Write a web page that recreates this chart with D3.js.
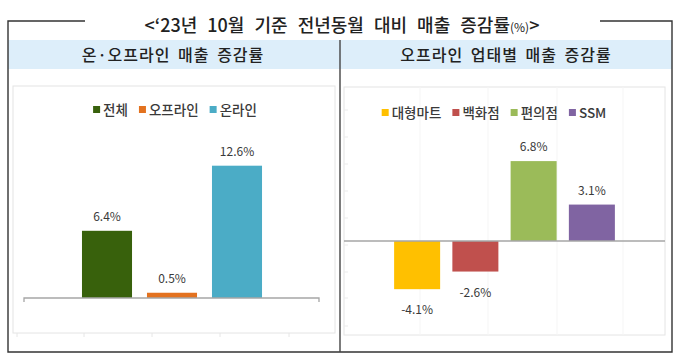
<!DOCTYPE html>
<html><head><meta charset="utf-8">
<script src="https://cdn.jsdelivr.net/npm/d3@7"></script>
<style>
html,body{margin:0;padding:0;background:#fff;}
svg{display:block;}
text{font-family:"Noto Sans CJK KR","Noto Sans",sans-serif;}
</style></head>
<body>
<svg id="chart" width="680" height="356"></svg>
<script>
// ---- data ----
const titleText = "<‘23년 10월 기준 전년동월 대비 매출 증감률";
const titleUnit = "(%)";
const leftTitle = "온·오프라인 매출 증감률";
const rightTitle = "오프라인 업태별 매출 증감률";

const leftCategories = ["전체", "오프라인", "온라인"];
const leftValues = [6.4, 0.5, 12.6];
const leftColors = ["#38610c", "#e3721f", "#4bacc6"];

const rightCategories = ["대형마트", "백화점", "편의점", "SSM"];
const rightValues = [-4.1, -2.6, 6.8, 3.1];
const rightColors = ["#ffc000", "#c0504d", "#9bbb59", "#8064a2"];

const svg = d3.select("#chart");
const TXT = "#3a3a3a";

// ---- frame ----
svg.append("rect").attr("x", 8).attr("y", 40).attr("width", 664).attr("height", 29).attr("fill", "#ddeefa");
svg.append("path")
  .attr("d", "M85,21 H8 V352 H672 V21 H600")
  .attr("fill", "none").attr("stroke", "#333").attr("stroke-width", 1.4);
svg.append("line").attr("x1", 340).attr("x2", 340).attr("y1", 40).attr("y2", 352)
  .attr("stroke", "#444").attr("stroke-width", 1.4);

const t = svg.append("text").attr("x", 342).attr("y", 32).attr("text-anchor", "middle")
  .attr("fill", "#222").attr("font-size", 18).attr("font-weight", 500).attr("word-spacing", 6);
t.append("tspan").text(titleText);
t.append("tspan").attr("font-size", 12).attr("font-weight", 400).attr("word-spacing", 0).text(titleUnit);
t.append("tspan").text(">");

svg.append("text").attr("x", 173).attr("y", 61).attr("text-anchor", "middle")
  .attr("fill", "#222").attr("font-size", 16).attr("font-weight", 500)
  .attr("letter-spacing", 1).attr("word-spacing", 3).text(leftTitle);
svg.append("text").attr("x", 506).attr("y", 61).attr("text-anchor", "middle")
  .attr("fill", "#222").attr("font-size", 16).attr("font-weight", 500)
  .attr("letter-spacing", 1).attr("word-spacing", 3).text(rightTitle);

// ---- plot areas ----
svg.append("rect").attr("x", 13).attr("y", 86).attr("width", 322).attr("height", 247)
  .attr("fill", "none").attr("stroke", "#e4e4e4").attr("stroke-width", 1);
svg.append("rect").attr("x", 344).attr("y", 87).attr("width", 321).attr("height", 248)
  .attr("fill", "none").attr("stroke", "#e4e4e4").attr("stroke-width", 1);

function legend(cats, colors, cx, cy) {
  const g = svg.append("g");
  const items = cats.map((c, i) => {
    const it = g.append("g");
    it.append("rect").attr("width", 7).attr("height", 7).attr("y", cy - 4).attr("fill", colors[i]);
    const tx = it.append("text").attr("x", 10).attr("y", cy + 5).attr("font-size", 13.5)
      .attr("font-weight", 500).attr("fill", TXT).text(c);
    return {g: it, w: 10 + tx.node().getComputedTextLength()};
  });
  const gap = 11;
  const total = d3.sum(items, d => d.w) + gap * (items.length - 1);
  let x = cx - total / 2;
  items.forEach(d => { d.g.attr("transform", `translate(${x},0)`); x += d.w + gap; });
}

function fmt(v) { return v.toFixed(1) + "%"; }

// ---- left chart ----
{
  const x = d3.scaleBand().domain(leftCategories).range([74.5, 269.5]).paddingInner(0.23).paddingOuter(0.115);
  const y = d3.scaleLinear().domain([0, 14]).range([298, 151]);
  [17, 84, 152, 220, 289].forEach(px => svg.append("line").attr("x1", px).attr("x2", px)
    .attr("y1", 333).attr("y2", 337).attr("stroke", "#e6e6e6"));
  const g = svg.append("g");
  g.selectAll("rect").data(leftValues).join("rect")
    .attr("x", (d, i) => x(leftCategories[i])).attr("width", x.bandwidth())
    .attr("y", d => y(d)).attr("height", d => y(0) - y(d))
    .attr("fill", (d, i) => leftColors[i]);
  svg.append("path").attr("d", `M24,${y(0)+4} V${y(0)} H319 V${y(0)+4}`)
    .attr("fill", "none").attr("stroke", "#a6a6a6").attr("stroke-width", 1.3);
  g.selectAll("text").data(leftValues).join("text")
    .attr("x", (d, i) => x(leftCategories[i]) + x.bandwidth() / 2)
    .attr("y", d => y(d) - 10).attr("text-anchor", "middle")
    .attr("font-size", 12).attr("fill", TXT).text(fmt);
  legend(leftCategories, leftColors, 175, 110);
}

// ---- right chart ----
{
  const x = d3.scaleBand().domain(rightCategories).range([388, 621]).paddingInner(0.21).paddingOuter(0.105);
  const y = d3.scaleLinear().domain([-8, 8]).range([335, 147]);
  [420, 488, 557, 623].forEach(px => svg.append("line").attr("x1", px).attr("x2", px)
    .attr("y1", 87).attr("y2", 335).attr("stroke", "#f5f5f5"));
  [218, 245, 272, 298, 326, 191, 164, 137, 110].forEach(py => svg.append("line").attr("x1", 344).attr("x2", 348)
    .attr("y1", py).attr("y2", py).attr("stroke", "#ebebeb"));
  const g = svg.append("g");
  g.selectAll("rect").data(rightValues).join("rect")
    .attr("x", (d, i) => x(rightCategories[i])).attr("width", x.bandwidth())
    .attr("y", d => Math.min(y(d), y(0))).attr("height", d => Math.abs(y(0) - y(d)))
    .attr("fill", (d, i) => rightColors[i]);
  svg.append("line").attr("x1", 344).attr("x2", 665).attr("y1", y(0)).attr("y2", y(0))
    .attr("stroke", "#a6a6a6").attr("stroke-width", 1.3);
  g.selectAll("text").data(rightValues).join("text")
    .attr("x", (d, i) => x(rightCategories[i]) + x.bandwidth() / 2)
    .attr("y", d => d >= 0 ? y(d) - 10 : y(d) + 25).attr("text-anchor", "middle")
    .attr("font-size", 12).attr("fill", TXT).text(fmt);
  legend(rightCategories, rightColors, 494, 113);
}
</script>
</body></html>
